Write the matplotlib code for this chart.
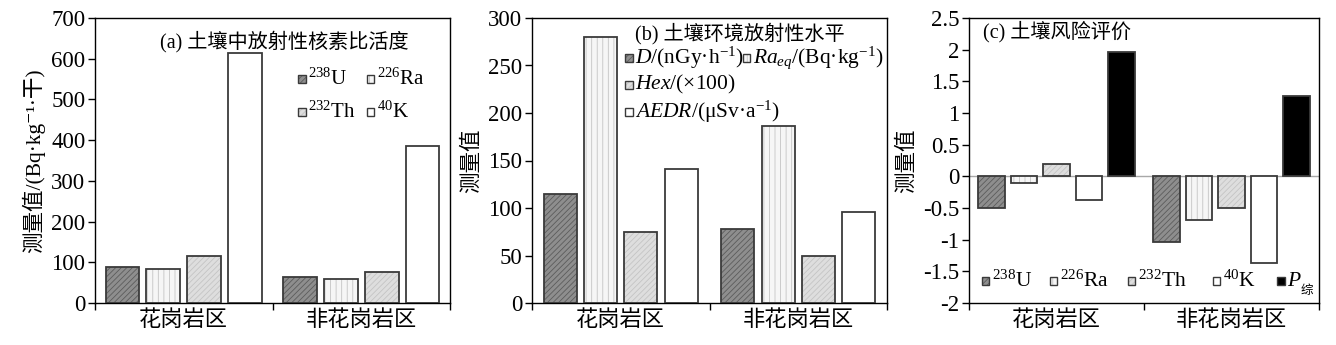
import numpy as np
import matplotlib
matplotlib.use("Agg")
import matplotlib.pyplot as plt
from matplotlib.patches import Rectangle
from matplotlib.ticker import MultipleLocator, FuncFormatter, FixedLocator

plt.rcParams['font.family'] = ['Liberation Serif', 'Noto Sans CJK SC', 'DejaVu Serif']
plt.rcParams['mathtext.fontset'] = 'custom'
plt.rcParams['mathtext.rm'] = 'Liberation Serif'
plt.rcParams['mathtext.it'] = 'Liberation Serif:italic'
plt.rcParams['mathtext.bf'] = 'Liberation Serif:bold'
plt.rcParams['hatch.linewidth'] = 0.6

CJK = ['Liberation Serif', 'Noto Sans CJK SC', 'DejaVu Serif']

# ---- data ----
categories = ['花岗岩区', '非花岗岩区']

# (a) specific activity of radionuclides, Bq/kg
nuclide_labels = ['$^{238}$U', '$^{226}$Ra', '$^{232}$Th', '$^{40}$K']
activity_U238 = [88, 63]
activity_Ra226 = [83, 58]
activity_Th232 = [116, 75]
activity_K40 = [614, 385]

# (b) environmental radiation level
level_labels = ['$D$/(nGy·h$^{-1}$)', '$Ra_{eq}$/(Bq·kg$^{-1}$)',
                '$Hex$/(×100)', '$AEDR$/(μSv·a$^{-1}$)']
level_D = [115, 78]
level_Raeq = [280, 186]
level_Hex = [75, 49]
level_AEDR = [141, 96]

# (c) risk assessment indices
risk_U238 = [-0.50, -1.03]
risk_Ra226 = [-0.10, -0.69]
risk_Th232 = [0.19, -0.50]
risk_K40 = [-0.37, -1.37]
risk_P = [1.96, 1.27]

# ---- styles ----
EDGE = '#3a3a3a'
STY_U = dict(face='#8e8e8e', hatchc='#5c5c5c', hatch='//////')
STY_RA = dict(face='#f6f6f6', hatchc='#c4c4c4', hatch='|||')
STY_TH = dict(face='#dedede', hatchc='#c4c4c4', hatch='//////')
STY_K = dict(face='white', hatchc='white', hatch=None)
STY_P = dict(face='black', hatchc='#202020', hatch=None)

fig = plt.figure(figsize=(13.36, 3.45), dpi=100)
W, H = 1336, 345


def add_axes_px(left, right, top, bottom):
    return fig.add_axes([left / W, 1 - bottom / H, (right - left) / W, (bottom - top) / H])


def draw_bars(ax, series, styles, width, step):
    x = np.arange(len(categories))
    n = len(series)
    for i, (vals, st) in enumerate(zip(series, styles)):
        pos = x + (i - (n - 1) / 2) * step
        ax.bar(pos, vals, width, color=st['face'], edgecolor=st['hatchc'],
               hatch=st['hatch'], linewidth=0, zorder=2)
        ax.bar(pos, vals, width, facecolor='none', edgecolor=EDGE,
               linewidth=1.3, zorder=3)


def style_axes(ax, ylim, ystep, ylabel, fmt=None):
    ax.set_xlim(-0.5, len(categories) - 0.5)
    ax.set_ylim(*ylim)
    ax.yaxis.set_major_locator(MultipleLocator(ystep))
    if fmt is not None:
        ax.yaxis.set_major_formatter(FuncFormatter(fmt))
    ax.set_xticks(np.arange(len(categories)))
    ax.set_xticklabels(categories, family=CJK, fontsize=16)
    ax.tick_params(axis='x', which='major', length=0, pad=5)
    ax.xaxis.set_minor_locator(FixedLocator(np.arange(len(categories) + 1) - 0.5))
    ax.tick_params(axis='x', which='minor', direction='out', length=5, width=1)
    ax.tick_params(axis='y', direction='out', length=5, width=1, labelsize=16.5, pad=2)
    for lab in ax.get_yticklabels():
        lab.set_family('Liberation Serif')
    for sp in ax.spines.values():
        sp.set_linewidth(1.0)
    ax.set_ylabel(ylabel, family=CJK, fontsize=15.5, labelpad=4)


def legend_entry(ax, xf, yf, st, label, size=15, sq=7.5):
    bbox = ax.get_position()
    wpx = bbox.width * W
    hpx = bbox.height * H
    w = sq / wpx
    h = sq / hpx
    ax.add_patch(Rectangle((xf, yf - h / 2), w, h, transform=ax.transAxes,
                           facecolor=st['face'], edgecolor=st['hatchc'],
                           hatch=st['hatch'], linewidth=0, zorder=5, clip_on=False))
    ax.add_patch(Rectangle((xf, yf - h / 2), w, h, transform=ax.transAxes,
                           facecolor='none', edgecolor=EDGE, linewidth=1.0,
                           zorder=6, clip_on=False))
    return ax.text(xf + w + 2.5 / wpx, yf, label, transform=ax.transAxes,
                   va='center', ha='left', fontsize=size, family=CJK)


# ---- (a) ----
ax1 = add_axes_px(95, 450, 18, 303)
draw_bars(ax1, [activity_U238, activity_Ra226, activity_Th232, activity_K40],
          [STY_U, STY_RA, STY_TH, STY_K], 0.19, 0.23)
style_axes(ax1, (0, 700), 100, '测量值/(Bq·kg⁻¹·干)')
ax1.text(0.183, 0.916, '(a) 土壤中放射性核素比活度', transform=ax1.transAxes,
         va='center', ha='left', fontsize=14.5, family=CJK)
legend_entry(ax1, 0.572, 0.786, STY_U, nuclide_labels[0])
legend_entry(ax1, 0.766, 0.786, STY_RA, nuclide_labels[1])
legend_entry(ax1, 0.572, 0.670, STY_TH, nuclide_labels[2])
legend_entry(ax1, 0.766, 0.670, STY_K, nuclide_labels[3])

# ---- (b) ----
ax2 = add_axes_px(532, 887, 18, 303)
draw_bars(ax2, [level_D, level_Raeq, level_Hex, level_AEDR],
          [STY_U, STY_RA, STY_TH, STY_K], 0.185, 0.227)
style_axes(ax2, (0, 300), 50, '测量值')
ax2.text(0.29, 0.947, '(b) 土壤环境放射性水平', transform=ax2.transAxes,
         va='center', ha='left', fontsize=14.5, family=CJK)
legend_entry(ax2, 0.262, 0.860, STY_U, level_labels[0], size=15.5)
legend_entry(ax2, 0.594, 0.860, STY_RA, level_labels[1], size=15.5)
legend_entry(ax2, 0.262, 0.765, STY_TH, level_labels[2], size=15.5)
legend_entry(ax2, 0.262, 0.670, STY_K, level_labels[3], size=15.5)

# ---- (c) ----
ax3 = add_axes_px(969, 1319, 18, 303)
ax3.axhline(0, color='#a8a8a8', linewidth=1.0, zorder=1)
draw_bars(ax3, [risk_U238, risk_Ra226, risk_Th232, risk_K40, risk_P],
          [STY_U, STY_RA, STY_TH, STY_K, STY_P], 0.153, 0.186)
style_axes(ax3, (-2, 2.5), 0.5, '测量值', fmt=lambda v, p: f'{v:g}')
ax3.text(0.04, 0.951, '(c) 土壤风险评价', transform=ax3.transAxes,
         va='center', ha='left', fontsize=14.5, family=CJK)
risk_labels = nuclide_labels + ['$P$']
xs = [0.037, 0.231, 0.454, 0.697, 0.88]
for xf, st, lab in zip(xs, [STY_U, STY_RA, STY_TH, STY_K, STY_P], risk_labels):
    legend_entry(ax3, xf, 0.077, st, lab, size=15.5)
ax3.text(0.947, 0.045, '综', transform=ax3.transAxes, va='center', ha='left',
         fontsize=9, family=['Noto Sans CJK SC'])

fig.savefig('out.png', dpi=100)
